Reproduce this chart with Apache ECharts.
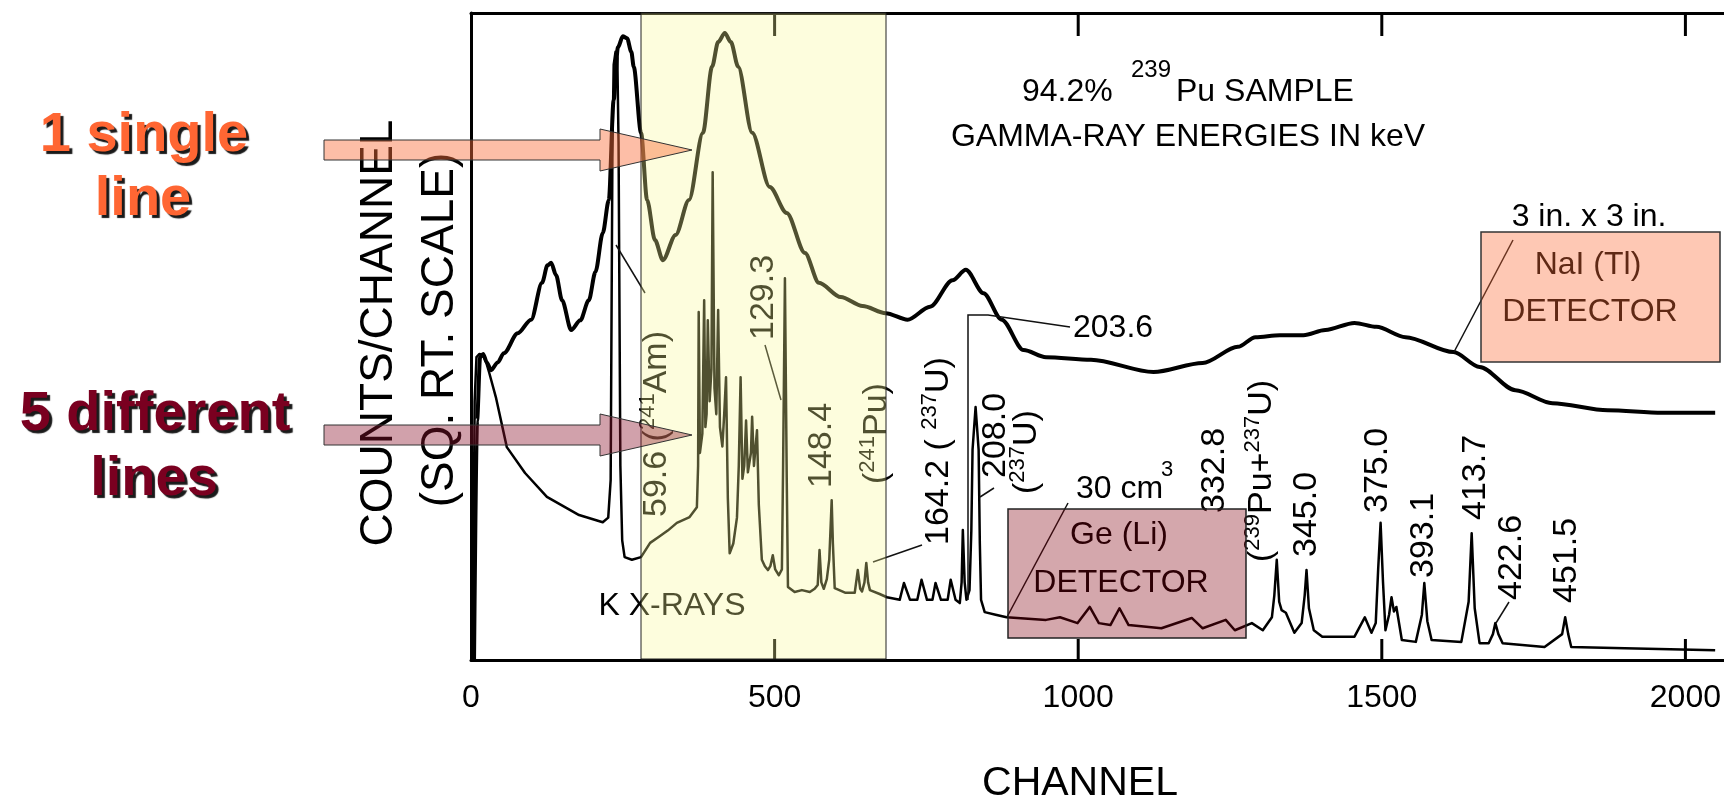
<!DOCTYPE html>
<html><head><meta charset="utf-8">
<script src="https://cdn.jsdelivr.net/npm/echarts@6/dist/echarts.min.js"></script>
<style>html,body{margin:0;padding:0;background:#fff}#c{width:1724px;height:802px}</style>
</head><body><div id="c"></div>
<script>
// ---- data (channel, sqrt-counts in arbitrary units 0..100) ----
const xTickValues = [0, 500, 1000, 1500, 2000];
const naiSpectrum = [
[5,0],[10,37],[15,46.8],[20,47.3],[26,46],[33,44.8],[44,46],[54,47.4],[77,50.5],[99,52.6],[117,58.3],[126,61],[132,61.4],[140,59.5],[150,55.6],[165,51],[180,52.5],[194,55.6],[205,60],[217,66],[227,71.1],[235,86.6],[242,94.7],[250,96.4],[257,96.1],[264,94],[268,91.7],[280,81.5],[290,71.1],[303,64.9],[316,61.8],[337,65.7],[359,71.1],[382,81.5],[397,91.7],[407,95.5],[418,96.9],[428,95.5],[440,91.7],[463,81.5],[492,73.1],[520,69.1],[550,62.9],[573,58.3],[609,56.1],[645,54.7],[683,53.6],[719,52.6],[756,54.6],[793,58.7],[815,60.3],[844,56.7],[874,52.6],[910,47.9],[947,46.8],[1021,46.4],[1124,44.5],[1205,45.9],[1263,48.4],[1292,49.9],[1332,50.2],[1371,50.2],[1407,51],[1455,52.1],[1491,51.5],[1539,49.9],[1618,47.6],[1661,45.3],[1720,41.7],[1781,39.7],[1872,38.6],[1962,38.2],[2049,38.2]
];
const geSpectrum = [
[3,0],[6,40],[9,46.8],[14,47.3],[20,47.1],[25,46],[30,44.4],[41,40.6],[59,32.9],[89,28.9],[125,25.2],[178,22.4],[217,21.3],[226,22],[230,27.8],[233,80],[235,92],[238,94],[241,93],[243,80],[246,30],[249,18.5],[253,15.9],[265,15.5],[280,15.9],[295,18.1],[309,19],[324,20],[339,21.2],[360,22.1],[372,23.6],
[374,30],[375,53.8],[377,32],[381,35],[384,55.6],[386,36],[388,38],[390,52.5],[393,40],[396,45],[398,75.4],[401,42],[404,38],[407,54.1],[410,36],[414,33],[417,38],[420,43.7],[423,25],[426,16.5],[432,18],[438,22],[441,30],[444,43.7],[447,28],[450,30],[453,37],[456,29],[459,29],[461,32],[463,37.6],[466,30],[469,30],[471,35.5],[474,24],[479,15.5],[484,14.5],[489,13.9],[493,14.5],[497,16.2],[501,14],[507,13.1],[512,14],[514,30],[517,59],[520,28],[522,11.3],[533,10.5],[545,10.8],[558,10.5],[566,11],[571,11.6],[574,17],[577,12],[581,11],[586,12.5],[590,15.5],[592,20],[594,24.7],[596,18],[599,11.1],[616,10.4],[632,10.4],[637,13.9],[641,11],[644,10.6],[648,12],[651,15],[654,12],[657,10.8],[673,10.2],[685,9.7],
[706,9.3],[713,11.9],[723,9.3],[735,9.3],[742,12.4],[751,9.3],[760,9.3],[765,11.9],[774,9.3],[785,9.3],[790,12.4],[798,9.3],[805,8.8],[808,12],[810,20.1],[813,12],[816,9.3],[821,10.8],[824,20],[826,32.5],[831,39.1],[836,32.5],[838,18],[840,9.3],[846,7.4],[864,7],[882,6.6],
[947,6.2],[970,6.6],[999,5.7],[1019,8.2],[1034,5.7],[1053,5.4],[1068,8],[1083,5.4],[1137,4.9],[1187,6.5],[1205,4.9],[1243,6.2],[1258,4.6],[1286,5.7],[1304,4.6],[1319,6.6],[1323,10],[1327,15.5],[1331,9],[1335,7.7],[1342,7.3],[1356,4.2],[1368,5.7],[1373,10],[1376,13.9],[1380,8],[1388,4.6],[1402,3.6],[1455,3.6],[1472,6.6],[1483,4.2],[1490,5.7],[1494,14],[1498,21.2],[1502,12],[1506,4.6],[1512,7],[1516,9.7],[1520,7.5],[1524,8.2],[1533,3.1],[1556,2.8],[1566,7],[1570,11.9],[1575,6],[1582,3.1],[1631,2.8],[1643,9],[1648,19.6],[1653,8],[1661,2.6],[1676,2.6],[1683,4],[1687,5.7],[1692,4],[1699,2.6],[1768,2],[1797,4],[1802,6.6],[1807,4],[1812,2],[1900,1.8],[2049,1.5]
];
// peak labels (energies in keV), rich-text markup: n = normal, s = superscript
const peakLabelTexts = [
  '{n|59.6 (}{s|241}{n|Am)}', '{n|129.3}', '{n|148.4}', '{n|(}{s|241}{n|Pu)}',
  '{n|164.2 ( }{s|237}{n|U)}', '{n|208.0}', '{n|(}{s|237}{n|U)}', '{n|332.8}',
  '{n|(}{s|239}{n|Pu+}{s|237}{n|U)}', '{n|345.0}', '{n|375.0}', '{n|393.1}',
  '{n|413.7}', '{n|422.6}', '{n|451.5}'
];

// ---- layout (pixel positions of annotations) ----
const peakLabelPos = [
  [657,517],[764,340],[822,488],[877,484],[939,545],[996,478],[1027,494],[1215,513],
  [1262,562],[1307,557],[1378,513],[1424,578],[1476,520],[1512,600],[1567,603]
];
const F = '"Liberation Sans", Arial, Helvetica, sans-serif';

const chart = echarts.init(document.getElementById('c'), null, {renderer:'canvas'});

const els = [];
function t(x, y, text, size, opts) {
  opts = opts || {};
  els.push({type:'text', x:x, y:y, rotation: opts.rot || 0, z: opts.z || 5, silent:true,
    style: Object.assign({text:text, font:(opts.bold?'bold ':'') + size + 'px ' + F, fill: opts.fill || '#000',
      align: opts.align || 'center', verticalAlign: 'middle'}, opts.style || {})});
}
function ln(points, w) {
  els.push({type:'polyline', z:5, silent:true, shape:{points:points}, style:{stroke:'#111', lineWidth:w||1.5, fill:null}});
}
// axis titles
t(379, 333, 'COUNTS/CHANNEL', 46, {rot:Math.PI/2});
t(440, 330, '(SQ. RT. SCALE)', 46, {rot:Math.PI/2});
t(1080, 784, 'CHANNEL', 41);
// title
t(1022, 92, '94.2%', 32, {align:'left'});
t(1131, 70, '239', 24, {align:'left'});
t(1176, 92, 'Pu SAMPLE', 32, {align:'left'});
t(1188, 137, 'GAMMA-RAY ENERGIES IN keV', 32);
// other horizontal notes
t(672, 606, 'K X-RAYS', 32);
t(1073, 328, '203.6', 32, {align:'left'});
t(1076, 489, '30 cm', 32, {align:'left'});
t(1161, 470, '3', 22, {align:'left'});
t(1589, 217, '3 in. x 3 in.', 32);
t(1588, 265, 'NaI (Tl)', 32);
t(1590, 312, 'DETECTOR', 32);
t(1119, 535, 'Ge (Li)', 32);
t(1121, 583, 'DETECTOR', 32);
// big side notes
const sh = {textShadowColor:'#1a1a1a', textShadowOffsetX:3, textShadowOffsetY:3, textShadowBlur:1};
t(144, 136, '1 single', 56, {bold:true, fill:'#FF6633', style:sh});
t(143, 200, 'line', 56, {bold:true, fill:'#FF6633', style:sh});
t(155, 415, '5 different', 56, {bold:true, fill:'#7A0020', style:sh});
t(154, 480, 'lines', 56, {bold:true, fill:'#7A0020', style:sh});
// rotated peak labels
peakLabelTexts.forEach(function(txt, i){
  const p = peakLabelPos[i];
  els.push({type:'text', x:p[0], y:p[1], rotation:Math.PI/2, z:5, silent:true,
    style:{text:txt, font:'34px ' + F, fill:'#000', align:'left', verticalAlign:'middle',
      rich:{ n:{fontSize:34, fontFamily:F, lineHeight:40, fill:'#000'},
             s:{fontSize:22, fontFamily:F, lineHeight:22, verticalAlign:'top', fill:'#000'} }}});
});
// leader lines
ln([[616,245],[645,293]]);
ln([[765,345],[781,400]]);
ln([[922,545],[873,562]]);
ln([[968,600],[968,315],[988,315],[1070,327]]);
ln([[980,497],[994,488]]);
ln([[1068,503],[1007,617]]);
ln([[1509,602],[1496,623]]);
ln([[1454,352],[1513,240]]);
// translucent boxes
els.push({type:'rect', z:10, silent:true, shape:{x:641, y:13, width:245, height:646}, style:{fill:'rgba(250,250,150,0.32)', stroke:'#222', lineWidth:1}});
els.push({type:'rect', z:10, silent:true, shape:{x:1481, y:232, width:239, height:130}, style:{fill:'rgba(252,109,56,0.376)', stroke:'#333', lineWidth:1.5}});
els.push({type:'rect', z:10, silent:true, shape:{x:1008, y:509, width:238, height:129}, style:{fill:'rgba(130,0,14,0.345)', stroke:'#222', lineWidth:1.5}});
// arrows
els.push({type:'polygon', z:11, silent:true, shape:{points:[[324,140],[600,140],[600,129],[692,150],[600,171],[600,160],[324,160]]}, style:{fill:'rgba(250,110,60,0.45)', stroke:'#333', lineWidth:1}});
els.push({type:'polygon', z:11, silent:true, shape:{points:[[324,425],[600,425],[600,414],[692,435],[600,456],[600,445],[324,445]]}, style:{fill:'rgba(140,20,45,0.4)', stroke:'#333', lineWidth:1}});

const axisBase = {type:'value', min:0, max:2063, interval:500, splitLine:{show:false},
  axisTick:{show:false},
  axisLine:{show:true, onZero:false, lineStyle:{color:'#000', width:3}}};
chart.setOption({
  animation:false,
  backgroundColor:'#fff',
  grid:{left:471, right:0, top:13, bottom:142, containLabel:false},
  xAxis:[
    Object.assign({}, axisBase, {position:'bottom',
      axisLabel:{show:true, margin:22, fontSize:32, fontFamily:F, color:'#000', showMaxLabel:false,
        formatter:function(v){ return xTickValues.indexOf(v) >= 0 ? String(v) : ''; }}}),
    Object.assign({}, axisBase, {position:'top', axisLabel:{show:false}})
  ],
  yAxis:{type:'value', min:0, max:100, splitLine:{show:false}, axisTick:{show:false}, axisLabel:{show:false},
    axisLine:{show:true, lineStyle:{color:'#000', width:3}}},
  series:[
    {name:'NaI(Tl)', type:'line', data:naiSpectrum, showSymbol:false, smooth:0.3, smoothMonotone:'x',
      lineStyle:{color:'#000', width:4, join:'round'}, z:2},
    {name:'Ge(Li)', type:'line', data:geSpectrum, showSymbol:false, smooth:false,
      lineStyle:{color:'#000', width:2.5, join:'round'}, z:3},
    {name:'ticks', type:'custom', clip:false, z:4, silent:true,
      data: xTickValues.slice(1).map(function(v){ return [v]; }),
      encode:{x:0},
      renderItem:function(params, api){
        const v = api.value(0);
        const b = api.coord([v, 0]);
        const tp = api.coord([v, 100]);
        return {type:'group', children:[
          {type:'line', shape:{x1:b[0], y1:b[1], x2:b[0], y2:b[1]-21}, style:{stroke:'#000', lineWidth:3}},
          {type:'line', shape:{x1:tp[0], y1:tp[1], x2:tp[0], y2:tp[1]+23}, style:{stroke:'#000', lineWidth:3}}
        ]};
      }}
  ],
  graphic:{elements:els}
});
</script></body></html>
